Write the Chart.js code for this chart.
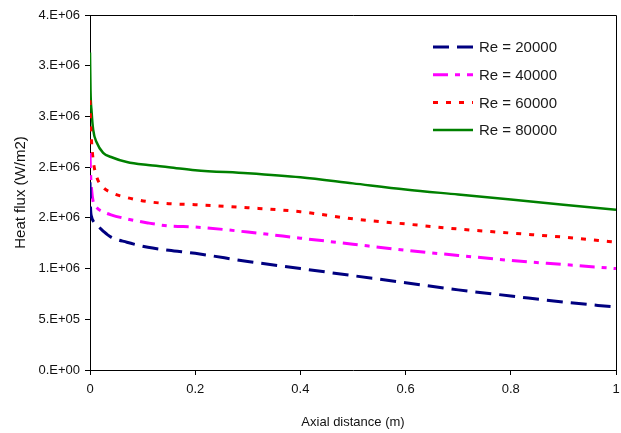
<!DOCTYPE html>
<html>
<head>
<meta charset="utf-8">
<script src="https://cdn.jsdelivr.net/npm/chart.js@4.4.0/dist/chart.umd.min.js"></script>
<style>
  html, body { margin: 0; padding: 0; background: #fff; }
  #wrap { width: 621px; height: 433px; }
</style>
</head>
<body>
<div id="wrap"><canvas id="fluxChart" width="621" height="433"></canvas></div>
<script>
(function () {
    "use strict";

    // Axial position along the tube (m), dense near the inlet
    const axialDistance = [0, 0.001, 0.003, 0.006, 0.013, 0.025, 0.04, 0.07, 0.11, 0.15, 0.2, 0.3, 0.4, 0.5, 0.6, 0.7, 0.8, 0.9, 1.0];

    // Wall heat flux (W/m2) for each Reynolds number
    const fluxRe20000 = [1850000, 1600000, 1510000, 1470000, 1430000, 1370000, 1310000, 1260000, 1210000, 1180000, 1150000, 1070000, 1000000, 930000, 860000, 790000, 730000, 670000, 620000];
    const fluxRe40000 = [2140000, 1950000, 1780000, 1660000, 1600000, 1560000, 1530000, 1490000, 1450000, 1420000, 1410000, 1360000, 1300000, 1240000, 1180000, 1130000, 1080000, 1040000, 1000000];
    const fluxRe60000 = [2660000, 2450000, 2250000, 2070000, 1900000, 1800000, 1750000, 1700000, 1660000, 1640000, 1630000, 1600000, 1560000, 1490000, 1440000, 1390000, 1350000, 1310000, 1260000];
    const fluxRe80000 = [3130000, 2750000, 2550000, 2370000, 2240000, 2140000, 2100000, 2050000, 2020000, 2000000, 1970000, 1940000, 1900000, 1840000, 1780000, 1730000, 1680000, 1630000, 1580000];

    const seriesLabels = ['Re = 20000', 'Re = 40000', 'Re = 60000', 'Re = 80000'];

    // Axis tick text, Excel style scientific format
    const fluxTickLabels = ['0.E+00', '5.E+05', '1.E+06', '2.E+06', '2.E+06', '3.E+06', '3.E+06', '4.E+06'];
    const distanceTickLabels = ['0', '0.2', '0.4', '0.6', '0.8', '1'];

    const FONT = "'Liberation Sans', Arial, sans-serif";

    function toPoints(values) {
        return values.map((v, i) => ({ x: axialDistance[i], y: v }));
    }

    function makeSeries(label, values, color, dash, width) {
        return {
            label: label,
            data: toPoints(values),
            borderColor: color,
            borderWidth: width,
            borderDash: dash,
            borderCapStyle: 'butt',
            pointRadius: 0,
            fill: false,
            cubicInterpolationMode: 'monotone'
        };
    }

    // Top/right frame plus the in-plot legend
    const frameAndLegend = {
        id: 'frameAndLegend',
        afterDatasetsDraw(chart) {
            const ctx = chart.ctx;
            const a = chart.chartArea;
            ctx.save();
            ctx.strokeStyle = '#000';
            ctx.lineWidth = 1;
            ctx.beginPath();
            ctx.moveTo(Math.round(a.left), Math.round(a.top) + 0.5);
            ctx.lineTo(Math.round(a.right) + 0.5, Math.round(a.top) + 0.5);
            ctx.lineTo(Math.round(a.right) + 0.5, Math.round(a.bottom));
            ctx.stroke();

            const x0 = a.right - 183;
            ctx.font = '15px ' + FONT;
            ctx.textBaseline = 'middle';
            ctx.textAlign = 'left';
            chart.data.datasets.forEach((ds, i) => {
                const y = a.top + 32 + i * 27.7;
                ctx.strokeStyle = ds.borderColor;
                ctx.lineWidth = ds.borderWidth;
                ctx.setLineDash(ds.borderDash || []);
                ctx.beginPath();
                ctx.moveTo(x0, y);
                ctx.lineTo(x0 + 40, y);
                ctx.stroke();
                ctx.setLineDash([]);
                ctx.fillStyle = '#1a1a1a';
                ctx.fillText(ds.label, x0 + 46, y + 1);
            });
            ctx.restore();
        }
    };

    function initChart() {
        const ctx = document.getElementById('fluxChart').getContext('2d');
        new Chart(ctx, {
            type: 'line',
            data: {
                datasets: [
                    makeSeries(seriesLabels[0], fluxRe20000, '#000080', [16, 8], 3),
                    makeSeries(seriesLabels[1], fluxRe40000, '#ff00ff', [15, 7, 5, 7], 3),
                    makeSeries(seriesLabels[2], fluxRe60000, '#ff0000', [5, 8], 3),
                    makeSeries(seriesLabels[3], fluxRe80000, '#008000', [], 2.5)
                ]
            },
            options: {
                responsive: false,
                animation: false,
                devicePixelRatio: 1,
                layout: { padding: { top: 15, right: 0, left: 0, bottom: 0 } },
                plugins: {
                    legend: { display: false },
                    tooltip: { enabled: false }
                },
                scales: {
                    x: {
                        type: 'linear',
                        min: 0,
                        max: 1,
                        afterFit: scale => {
                            scale.height = 63;
                            scale.paddingRight = 5;
                        },
                        border: { display: true, color: '#000', width: 1 },
                        grid: { drawOnChartArea: false, drawTicks: true, tickLength: 5, color: '#000' },
                        ticks: {
                            stepSize: 0.2,
                            padding: 7,
                            color: '#111',
                            maxRotation: 0,
                            font: { family: FONT, size: 13 },
                            callback: (value, index) => distanceTickLabels[index]
                        },
                        title: {
                            display: true,
                            text: 'Axial distance (m)',
                            color: '#111',
                            font: { family: FONT, size: 13 },
                            padding: { top: 0, bottom: 3 }
                        }
                    },
                    y: {
                        min: 0,
                        max: 3500000,
                        afterFit: scale => { scale.width = 90; },
                        border: { display: true, color: '#000', width: 1 },
                        grid: { drawOnChartArea: false, drawTicks: true, tickLength: 5, color: '#000' },
                        ticks: {
                            stepSize: 500000,
                            padding: 5,
                            color: '#111',
                            font: { family: FONT, size: 13 },
                            callback: (value, index) => fluxTickLabels[index]
                        },
                        title: {
                            display: true,
                            text: 'Heat flux (W/m2)',
                            color: '#111',
                            font: { family: FONT, size: 15 },
                            padding: { top: 12, bottom: 0 }
                        }
                    }
                }
            },
            plugins: [frameAndLegend]
        });
    }

    document.addEventListener('DOMContentLoaded', initChart);
})();
</script>
</body>
</html>
